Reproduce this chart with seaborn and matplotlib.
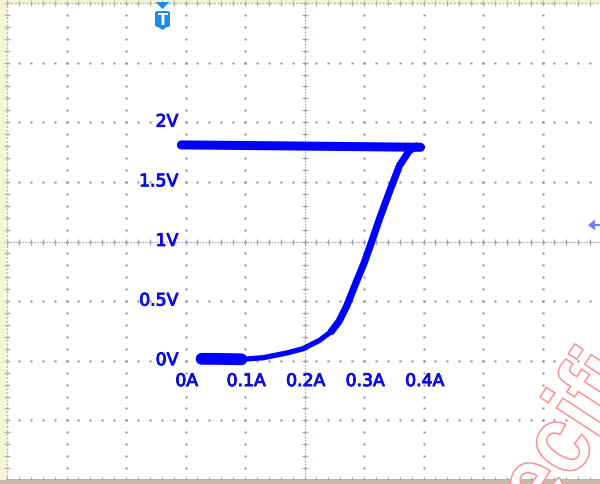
import numpy as np
import pandas as pd
import seaborn as sns
import matplotlib.pyplot as plt
import matplotlib.patheffects as pe
from matplotlib.patches import Polygon, FancyBboxPatch, Rectangle, PathPatch
from matplotlib.textpath import TextPath
from matplotlib.font_manager import FontProperties
from matplotlib.transforms import IdentityTransform, Affine2D

# XY trace (X = current in A, Y = voltage in V)
corrente_topo = [-0.007, 0.10, 0.20, 0.30, 0.395]
tensao_topo = [1.81, 1.805, 1.80, 1.795, 1.79]

corrente_inicio = [0.027, 0.05, 0.075, 0.094]
tensao_inicio = [0.016, 0.016, 0.014, 0.012]

corrente_baixa = [0.094, 0.13, 0.17, 0.197, 0.225, 0.245]
tensao_baixa = [0.012, 0.025, 0.065, 0.10, 0.17, 0.245]

corrente_subida = [0.245, 0.258, 0.271, 0.287, 0.301, 0.313, 0.326, 0.343, 0.360, 0.376, 0.388, 0.395]
tensao_subida = [0.245, 0.33, 0.46, 0.66, 0.83, 1.0, 1.19, 1.42, 1.64, 1.76, 1.80, 1.79]

# labels drawn on the screen
valores_v = [0, 0.5, 1.0, 1.5, 2.0]
rotulos_v = ['0V', '0.5V', '1V', '1.5V', '2V']
valores_a = [0, 0.1, 0.2, 0.3, 0.4]
rotulos_a = ['0A', '0.1A', '0.2A', '0.3A', '0.4A']

sns.set_style("white")
plt.rcParams['font.family'] = ['DejaVu Sans']

W, H = 600, 485
fig = plt.figure(figsize=(W / 100, H / 100), dpi=100, facecolor='#f6f4d6')
ax = fig.add_axes([7 / W, 4 / H, 595 / W, 477 / H])
ax.set_facecolor('white')
ax.set_xlim(-0.3, 0.7)
ax.set_ylim(-1, 3)
ax.set_xticks([])
ax.set_yticks([])
for s in ax.spines.values():
    s.set_visible(False)

# bottom strip of the screenshot
fig.add_artist(Rectangle((0, 0), W, 4, transform=IdentityTransform(),
                         facecolor='#c9b9aa', edgecolor='none'))

# dotted graticule
cor_grade = '#8383a3'
xs_pontos = np.arange(-0.3, 0.7001, 0.02)
ys_pontos = np.arange(-1, 3.0001, 0.1)
for xv in np.arange(-0.3, 0.7001, 0.1):
    ax.plot(np.full(len(ys_pontos), xv), ys_pontos, ls='none', marker='s',
            ms=1.4, mew=0, color=cor_grade)
for yv in np.arange(-1, 3.0001, 0.5):
    ax.plot(xs_pontos, np.full(len(xs_pontos), yv), ls='none', marker='s',
            ms=1.4, mew=0, color=cor_grade)

# centre cross and border with small ticks
cor_eixo = '#a4a4bc'
ax.axvline(0.2, color=cor_eixo, lw=0.8, ls=(0, (1.5, 1.2)))
ax.axhline(1.0, color=cor_eixo, lw=0.8, ls=(0, (1.5, 1.2)))
ax.plot(np.full(len(ys_pontos), 0.2), ys_pontos, ls='none', marker='_', ms=5,
        mew=0.8, color=cor_eixo)
ax.plot(xs_pontos, np.full(len(xs_pontos), 1.0), ls='none', marker='|', ms=5,
        mew=0.8, color=cor_eixo)
cor_borda = '#b8b89c'
ax.axhline(3.0, color=cor_borda, lw=1.0, ls=(0, (1.5, 1.2)), clip_on=False)
ax.axvline(-0.3, color=cor_borda, lw=1.0, ls=(0, (1.5, 1.2)), clip_on=False)
ax.plot(xs_pontos, np.full(len(xs_pontos), 3.0), ls='none', marker='|', ms=5,
        mew=0.8, color=cor_borda, clip_on=False)
ax.plot(np.full(len(ys_pontos), -0.3), ys_pontos, ls='none', marker='_', ms=5,
        mew=0.8, color=cor_borda, clip_on=False)
ax.axhline(-1.0, color='#b5a595', lw=1.2, clip_on=False)
ax.plot(xs_pontos, np.full(len(xs_pontos), -1.0), ls='none', marker='|', ms=5,
        mew=0.8, color='#9a9ab4', clip_on=False)

# the trace
azul = '#0000ff'
partes = [
    (corrente_topo, tensao_topo, 6.5),
    (corrente_inicio, tensao_inicio, 8.5),
    (corrente_baixa, tensao_baixa, 3.8),
    (corrente_subida, tensao_subida, 5.2),
]
for xs, ys, lw in partes:
    dados = pd.DataFrame({'I': xs, 'V': ys})
    sns.lineplot(x='I', y='V', data=dados, sort=False, estimator=None,
                 color=azul, lw=lw, solid_capstyle='round',
                 solid_joinstyle='round', ax=ax)
ax.set_xlabel('')
ax.set_ylabel('')

# on-screen scale labels
cor_texto = '#0c0ce6'
engrossar = [pe.Stroke(linewidth=0.7, foreground=cor_texto), pe.Normal()]
for v, r in zip(valores_v, rotulos_v):
    ax.text(-0.012, v + 0.005, r, ha='right', va='center', fontsize=12.4,
            color=cor_texto, path_effects=engrossar)
for a, r in zip(valores_a, rotulos_a):
    ax.text(a + 0.002, -0.17, r, ha='center', va='center', fontsize=12.4,
            color=cor_texto, path_effects=engrossar)

# trigger marker and channel marker
def px(x, y):
    return (x, H - y)

azul_trig = '#1c8ce8'
fig.add_artist(Polygon([px(155.5, 3), px(169.5, 3), px(162.5, 10)], closed=True,
                       transform=IdentityTransform(), facecolor=azul_trig,
                       edgecolor='none'))
fig.add_artist(FancyBboxPatch(px(155, 28), 15, 16,
                              boxstyle='round,pad=0,rounding_size=2.5',
                              transform=IdentityTransform(),
                              facecolor=azul_trig, edgecolor='none'))
fig.add_artist(Polygon([px(155, 26), px(170, 26), px(162.5, 31)], closed=True,
                       transform=IdentityTransform(), facecolor=azul_trig,
                       edgecolor='none'))
fig.text(162.5 / W, 1 - 20.5 / H, 'T', ha='center', va='center', fontsize=10.5,
         fontweight='bold', color='white')

azul_canal = '#6a84ff'
fig.add_artist(Polygon([px(588, 226), px(595, 220.5), px(595, 231.5)], closed=True,
                       transform=IdentityTransform(), facecolor=azul_canal,
                       edgecolor='none'))
fig.add_artist(Rectangle(px(594, 227), 8, 2, transform=IdentityTransform(),
                         facecolor=azul_canal, edgecolor='none'))

# outlined watermark in the corner (bold letters, rotated, partly off-screen)
caminho = TextPath((0, 0), 'ecific', size=100,
                   prop=FontProperties(family='Liberation Sans', weight='bold'))
giro = Affine2D().scale(0.85, 1).rotate_deg(57).translate(546, H - 522)
fig.add_artist(PathPatch(caminho, transform=giro + IdentityTransform(),
                         facecolor='white', edgecolor='#ff9090', lw=1.1))

fig.savefig('out.png', dpi=100, facecolor=fig.get_facecolor())
